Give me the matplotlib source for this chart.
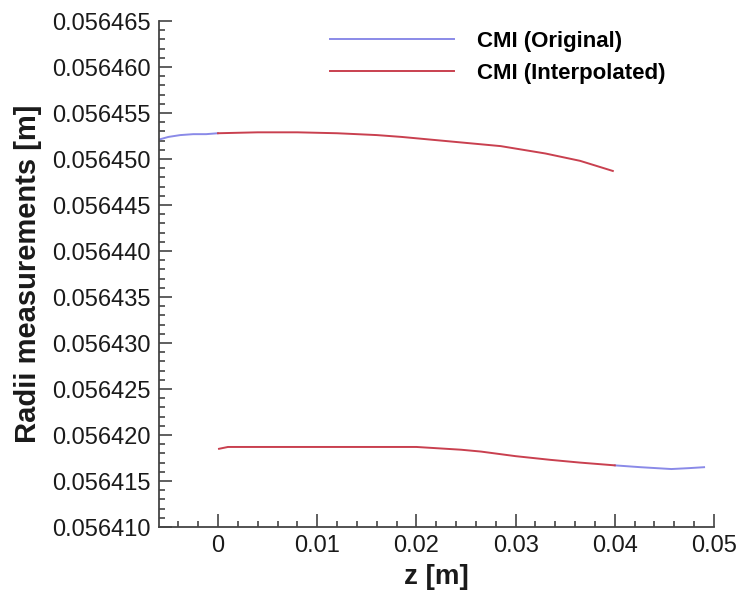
import matplotlib.pyplot as plt
from matplotlib.ticker import MultipleLocator, FormatStrFormatter

plt.rcParams['font.family'] = ['Liberation Sans', 'DejaVu Sans']

# Curva superior
z_sup_orig = [-0.0060, -0.0050, -0.0038, -0.0025, -0.0012, 0.0]
r_sup_orig = [0.0564521, 0.0564524, 0.0564526, 0.0564527, 0.0564527, 0.0564528]
z_sup_interp = [0.0, 0.004, 0.008, 0.012, 0.016, 0.0185, 0.0235, 0.0285, 0.033, 0.0365, 0.0398]
r_sup_interp = [0.0564528, 0.0564529, 0.0564529, 0.0564528, 0.0564526, 0.0564524, 0.0564519,
                0.0564514, 0.0564506, 0.0564498, 0.0564487]

# Curva inferior
z_inf_interp = [0.0001, 0.001, 0.005, 0.010, 0.015, 0.020, 0.0245, 0.0265, 0.030, 0.0335, 0.0365, 0.0400]
r_inf_interp = [0.0564185, 0.0564187, 0.0564187, 0.0564187, 0.0564187, 0.0564187, 0.0564184,
                0.0564182, 0.0564177, 0.0564173, 0.0564170, 0.0564167]
z_inf_orig = [0.0400, 0.0426, 0.0457, 0.0475, 0.0490]
r_inf_orig = [0.0564167, 0.0564165, 0.0564163, 0.0564164, 0.0564165]

cor_orig = '#8a8ae8'
cor_interp = '#c9404f'

fig = plt.figure(figsize=(7.39, 5.91), dpi=100)
ax = fig.add_axes([159 / 739, 1 - 527 / 591, 555 / 739, 506 / 591])

ax.plot(z_sup_orig, r_sup_orig, color=cor_orig, lw=1.4, label='CMI (Original)')
ax.plot(z_inf_orig, r_inf_orig, color=cor_orig, lw=1.4)
ax.plot(z_sup_interp, r_sup_interp, color=cor_interp, lw=1.4, label='CMI (Interpolated)')
ax.plot(z_inf_interp, r_inf_interp, color=cor_interp, lw=1.4)

ax.set_xlim(-0.00595, 0.05)
ax.set_ylim(0.056410, 0.056465)

ax.xaxis.set_major_locator(MultipleLocator(0.01))
ax.xaxis.set_minor_locator(MultipleLocator(0.002))
ax.yaxis.set_major_locator(MultipleLocator(0.000005))
ax.yaxis.set_minor_locator(MultipleLocator(0.000001))
ax.yaxis.set_major_formatter(FormatStrFormatter('%.6f'))
ax.set_xticks([0, 0.01, 0.02, 0.03, 0.04, 0.05])
ax.set_xticklabels(['0', '0.01', '0.02', '0.03', '0.04', '0.05'])

ax.tick_params(which='both', direction='in', labelsize=17, width=1.2, colors='#444444',
               labelcolor='#1a1a1a')
ax.tick_params(which='major', length=9.4, pad=6)
ax.tick_params(which='minor', length=4.3)

for lado in ['top', 'right']:
    ax.spines[lado].set_visible(False)
for lado in ['left', 'bottom']:
    ax.spines[lado].set_linewidth(1.3)
    ax.spines[lado].set_color('#444444')

ax.set_xlabel('z [m]', fontsize=20, fontweight='bold', labelpad=5, color='#1a1a1a')
ax.set_ylabel('Radii measurements [m]', fontsize=21, fontweight='bold', labelpad=7, color='#1a1a1a')

ax.legend(loc='upper left', bbox_to_anchor=(330 / 739, 1 - 31 / 591), bbox_transform=fig.transFigure,
          frameon=False, prop={'size': 16, 'weight': 'bold'}, handlelength=5.6,
          handletextpad=1.0, labelspacing=0.5, borderaxespad=0, borderpad=0)

fig.savefig('out.png', dpi=100)
